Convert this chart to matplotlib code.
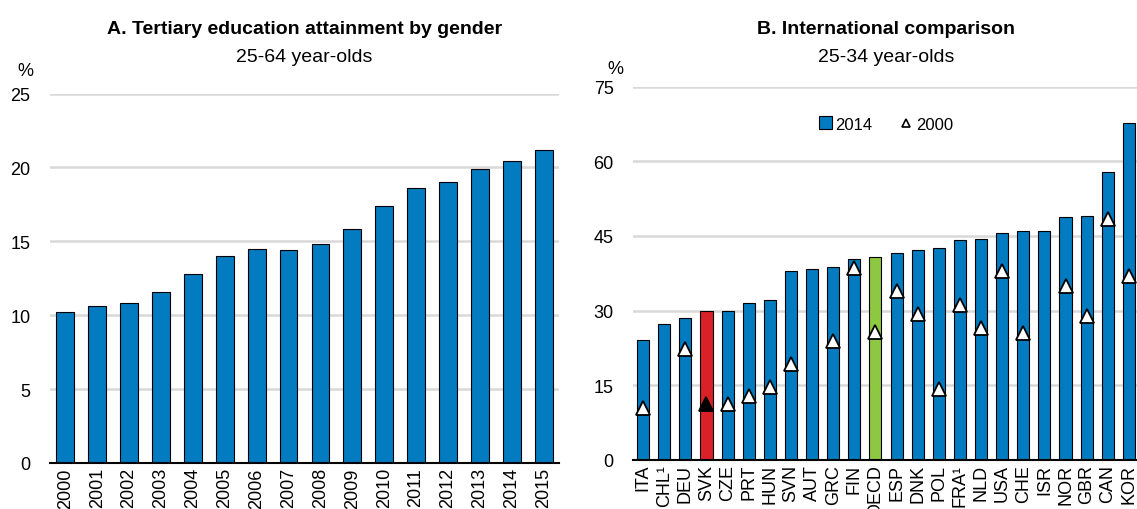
import matplotlib
matplotlib.use('Agg')
import matplotlib.pyplot as plt
from matplotlib import font_manager
from matplotlib.patches import Patch
from matplotlib.lines import Line2D
import numpy as np

# Panel A: tertiary attainment, 25-64 year-olds
years = ['2000', '2001', '2002', '2003', '2004', '2005', '2006', '2007',
         '2008', '2009', '2010', '2011', '2012', '2013', '2014', '2015']
attain = [10.2, 10.6, 10.8, 11.6, 12.8, 14.0, 14.5, 14.4,
          14.8, 15.8, 17.4, 18.6, 19.0, 19.9, 20.4, 21.2]

# Panel B: international comparison, 25-34 year-olds
countries = ['ITA', 'CHL¹', 'DEU', 'SVK', 'CZE', 'PRT', 'HUN', 'SVN', 'AUT',
             'GRC', 'FIN', 'OECD', 'ESP', 'DNK', 'POL', 'FRA¹', 'NLD', 'USA',
             'CHE', 'ISR', 'NOR', 'GBR', 'CAN', 'KOR']
val2014 = [24.0, 27.3, 28.4, 29.9, 29.9, 31.5, 32.1, 38.0, 38.4,
           38.7, 40.4, 40.8, 41.5, 42.1, 42.6, 44.1, 44.3, 45.6,
           45.9, 45.9, 48.9, 49.1, 57.8, 67.8]
val2000 = [10.3, None, 22.3, 11.2, 11.2, 12.8, 14.6, 19.2, None,
           23.8, 38.6, 25.7, 34.0, 29.3, 14.2, 31.2, 26.4, 38.0,
           25.5, None, 34.9, 28.9, 48.4, 37.0]

BLUE = '#037BC1'
RED = '#DA2128'
GREEN = '#8CC841'
GRID = '#D9D9D9'

names = {f.name for f in font_manager.fontManager.ttflist}
if 'Liberation Sans Narrow' in names:
    fam = ['Liberation Sans Narrow', 'DejaVu Sans']
    fs, tfs, lfs = 16, 16, 13
else:
    fam = ['Liberation Sans', 'DejaVu Sans']
    fs, tfs, lfs = 13, 14, 12
plt.rcParams['font.family'] = fam

W, H = 1137, 510
fig = plt.figure(figsize=(W / 100, H / 100), dpi=100)

axA = fig.add_axes([50 / W, 1 - 464 / H, 509 / W, (464 - 94.5) / H])
axB = fig.add_axes([633 / W, 1 - 460.7 / H, 506 / W, (460.7 - 87.7) / H])


def style(ax):
    for s in ['top', 'right', 'left']:
        ax.spines[s].set_visible(False)
    ax.spines['bottom'].set_linewidth(1.5)
    ax.spines['bottom'].set_zorder(5)
    ax.yaxis.grid(True, color=GRID, linewidth=1.8)
    ax.set_axisbelow(True)
    ax.tick_params(axis='y', length=0, pad=14, labelsize=fs)
    ax.tick_params(axis='x', length=0, pad=3, labelsize=fs, labelrotation=90)


# Panel A
xa = np.arange(len(years))
axA.bar(xa, attain, width=0.56, color=BLUE, edgecolor='black', linewidth=0.8)
style(axA)
axA.set_xticks(xa)
axA.set_xticklabels(years)
axA.set_xlim(-0.48, len(years) - 0.52)
axA.set_ylim(0, 25)
axA.set_yticks([0, 5, 10, 15, 20, 25])

# Panel B
xb = np.arange(len(countries))
colors = [RED if c == 'SVK' else GREEN if c == 'OECD' else BLUE for c in countries]
axB.bar(xb, val2014, width=0.57, color=colors, edgecolor='black', linewidth=0.8)
for i, v in enumerate(val2000):
    if v is None:
        continue
    fc = 'black' if countries[i] == 'SVK' else 'white'
    axB.plot(xb[i], v, marker='^', markersize=10, markerfacecolor=fc,
             markeredgecolor='black', markeredgewidth=1.3, zorder=4)
style(axB)
axB.set_xticks(xb)
axB.set_xticklabels(countries)
axB.set_xlim(-0.48, len(countries) - 0.52)
axB.set_ylim(0, 75)
axB.set_yticks([0, 15, 30, 45, 60, 75])

handles = [Patch(facecolor=BLUE, edgecolor='black', linewidth=0.8, label='2014'),
           Line2D([], [], linestyle='none', marker='^', markersize=6,
                  markerfacecolor='white', markeredgecolor='black',
                  markeredgewidth=1.2, label='2000')]
axB.legend(handles=handles, loc='center', bbox_to_anchor=(0.5, 0.9), ncol=2,
           frameon=False, fontsize=lfs, handlelength=0.8, handleheight=0.8,
           handletextpad=0.2, columnspacing=1.6)

# titles and unit labels
cxA = (50 + 559) / 2 / W
cxB = (633 + 1139) / 2 / W
fig.text(cxA, 1 - 30 / H, 'A. Tertiary education attainment by gender',
         ha='center', va='center', fontsize=tfs, fontweight='bold')
fig.text(cxA, 1 - 57 / H, '25-64 year-olds', ha='center', va='center', fontsize=tfs)
fig.text(cxB, 1 - 30 / H, 'B. International comparison',
         ha='center', va='center', fontsize=tfs, fontweight='bold')
fig.text(cxB, 1 - 57 / H, '25-34 year-olds', ha='center', va='center', fontsize=tfs)
fig.text(25 / W, 1 - 72 / H, '%', ha='center', va='center', fontsize=fs)
fig.text(615 / W, 1 - 69 / H, '%', ha='center', va='center', fontsize=fs)

fig.savefig('out.png', dpi=100)
